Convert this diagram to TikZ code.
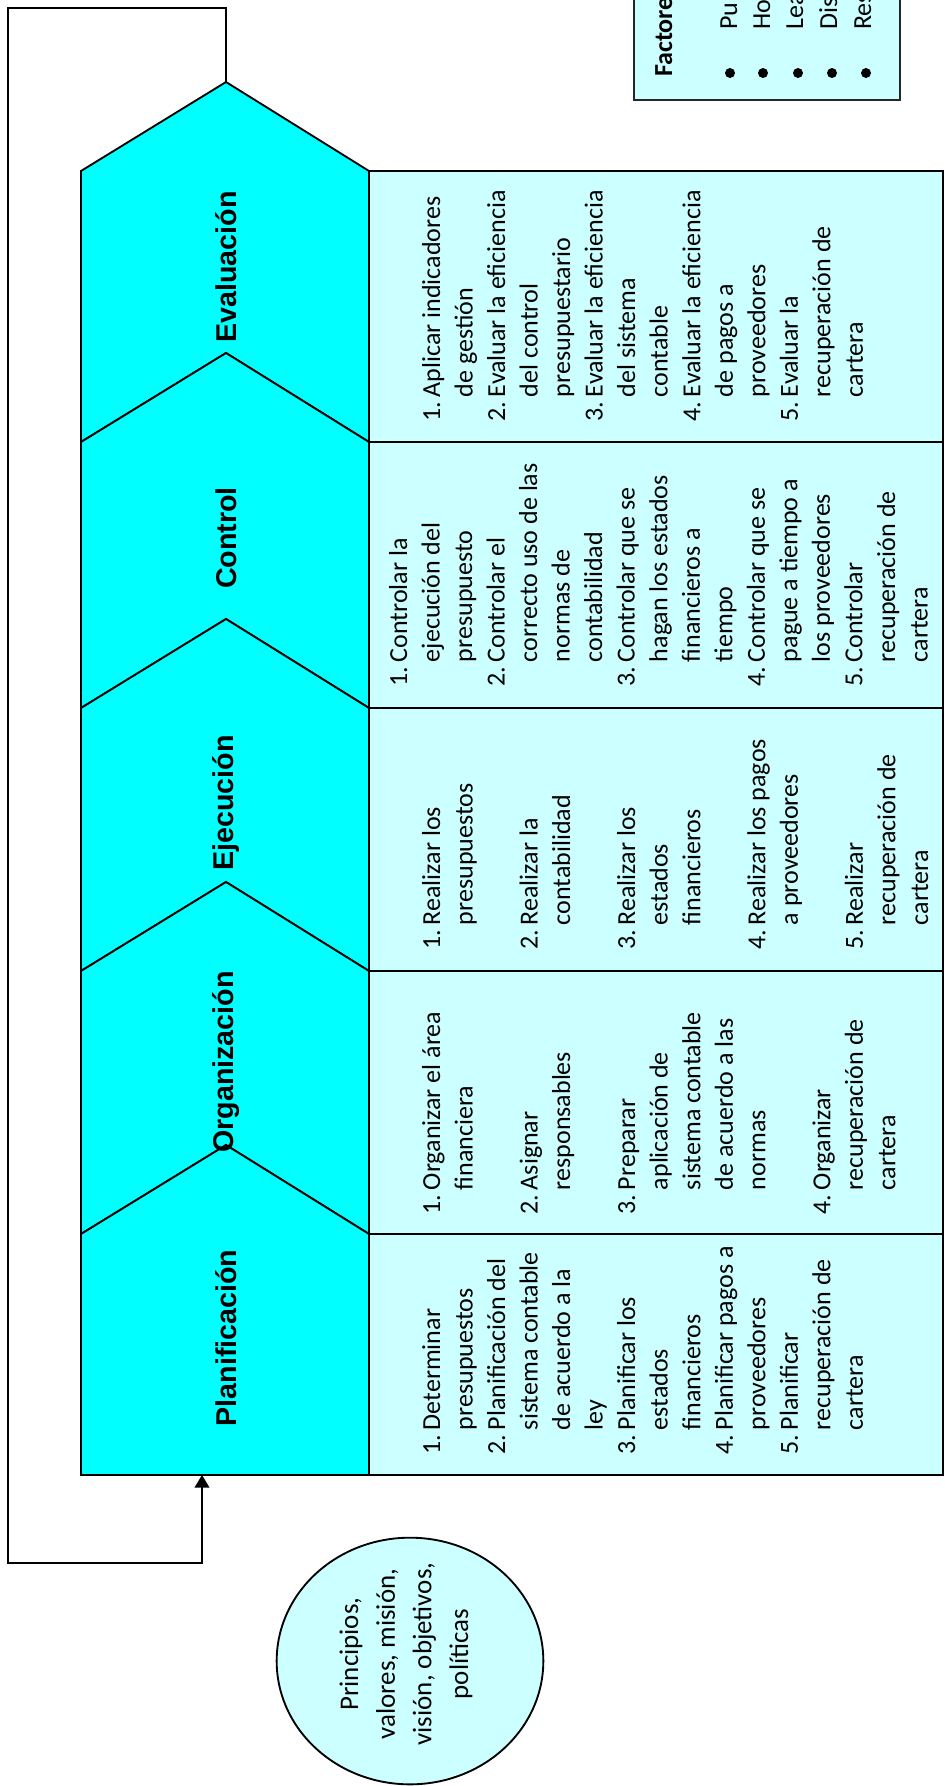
\documentclass[tikz,border=0pt]{standalone}
\usepackage{fontspec}
\setmainfont{Carlito}
\newfontfamily\headfont{Liberation Sans}
\usetikzlibrary{arrows.meta,shapes.geometric}
\definecolor{chevcyan}{HTML}{00FFFF}
\definecolor{paleblue}{HTML}{CCFFFF}
% hanging indent for numbered task lines
\newlength{\numw}\setlength{\numw}{18.5pt}
\newcommand{\itm}[2]{\makebox[\numw][l]{#1}#2}
\newcommand{\cnt}[1]{\hspace*{\numw}#1}

\begin{document}
\begin{tikzpicture}[x=0.75pt,y=-0.75pt,
  outline/.style={draw=black,line width=1.4pt,line join=miter},
  phase/.style={outline,fill=chevcyan},
  cell/.style={outline,fill=paleblue},
  phasename/.style={rotate=90,inner sep=0pt,
    font=\headfont\bfseries\fontsize{21.5pt}{26pt}\selectfont},
  tasks/.style={rotate=90,anchor=base west,inner sep=0pt,
    font=\fontsize{19.5pt}{24.4pt}\selectfont},
  factor/.style={rotate=90,anchor=base west,inner sep=0pt,
    font=\fontsize{19.5pt}{24.4pt}\selectfont},
  flow/.style={draw=black,line width=1.4pt}]

\useasboundingbox (0,0) rectangle (945,1786);
\clip (0,0) rectangle (945,1786);

% ---- factors box (runs off the top edge)
\draw[outline,draw=black!85,fill=paleblue] (634,-20) rectangle (900,100);
\node[factor,font=\bfseries\fontsize{19.5pt}{24.4pt}\selectfont] (factTitle) at (672,77) {Factore};
\foreach \bx/\tx/\w [count=\i] in {730/737/Pu,763/770/Ho,798/803/Lea,832/837/Dis,866/871/Res}{
  \fill (\bx,73) circle[radius=3.75pt];
  \node[factor] (fact\i) at (\tx,30) {\w};
}

% ---- phase chevrons
\path[phase] (81,442) -- (81,171) -- (226,82) -- (369,171) -- (369,442) -- (226,353) -- cycle;
\path[phase] (81,708) -- (81,442) -- (226,353) -- (369,442) -- (369,708) -- (226,619) -- cycle;
\path[phase] (81,971) -- (81,708) -- (226,619) -- (369,708) -- (369,971) -- (226,882) -- cycle;
\path[phase] (81,1234) -- (81,971) -- (226,882) -- (369,971) -- (369,1234) -- (226,1145) -- cycle;
\path[phase] (81,1475) -- (81,1234) -- (226,1145) -- (369,1234) -- (369,1475) -- cycle;

\node[phasename] (evaluacion) at (226,267) {Evaluación};
\node[phasename] (control) at (226,538) {Control};
\node[phasename] (ejecucion) at (226,803) {Ejecución};
\node[phasename] (organizacion) at (226,1062) {Organización};
\node[phasename] (planificacion) at (226,1338) {Planificación};

% ---- task table
\path[cell] (369,171) rectangle (943,442);
\path[cell] (369,442) rectangle (943,708);
\path[cell] (369,708) rectangle (943,971);
\path[cell] (369,971) rectangle (943,1234);
\path[cell] (369,1234) rectangle (943,1475);

\node[tasks] (evalTasks) at (440,422) {\begin{tabular}[t]{@{}l@{}}
\itm{1.}{Aplicar indicadores}\\
\cnt{de gestión}\\
\itm{2.}{Evaluar la eficiencia}\\
\cnt{del control}\\
\cnt{presupuestario}\\
\itm{3.}{Evaluar la eficiencia}\\
\cnt{del sistema}\\
\cnt{contable}\\
\itm{4.}{Evaluar la eficiencia}\\
\cnt{de pagos a}\\
\cnt{proveedores}\\
\itm{5.}{Evaluar la}\\
\cnt{recuperación de}\\
\cnt{cartera}
\end{tabular}};

\node[tasks] (controlTasks) at (407,687) {\begin{tabular}[t]{@{}l@{}}
\itm{1.}{Controlar la}\\
\cnt{ejecución del}\\
\cnt{presupuesto}\\
\itm{2.}{Controlar el}\\
\cnt{correcto uso de las}\\
\cnt{normas de}\\
\cnt{contabilidad}\\
\itm{3.}{Controlar que se}\\
\cnt{hagan los estados}\\
\cnt{financieros a}\\
\cnt{tiempo}\\
\itm{4.}{Controlar que se}\\
\cnt{pague a tiempo a}\\
\cnt{los proveedores}\\
\itm{5.}{Controlar}\\
\cnt{recuperación de}\\
\cnt{cartera}
\end{tabular}};

\node[tasks] (ejecTasks) at (440,950) {\begin{tabular}[t]{@{}l@{}}
\itm{1.}{Realizar los}\\
\cnt{presupuestos}\\
{}\\
\itm{2.}{Realizar la}\\
\cnt{contabilidad}\\
{}\\
\itm{3.}{Realizar los}\\
\cnt{estados}\\
\cnt{financieros}\\
{}\\
\itm{4.}{Realizar los pagos}\\
\cnt{a proveedores}\\
{}\\
\itm{5.}{Realizar}\\
\cnt{recuperación de}\\
\cnt{cartera}
\end{tabular}};

\node[tasks] (orgTasks) at (440,1215) {\begin{tabular}[t]{@{}l@{}}
\itm{1.}{Organizar el área}\\
\cnt{financiera}\\
{}\\
\itm{2.}{Asignar}\\
\cnt{responsables}\\
{}\\
\itm{3.}{Preparar}\\
\cnt{aplicación de}\\
\cnt{sistema contable}\\
\cnt{de acuerdo a las}\\
\cnt{normas}\\
{}\\
\itm{4.}{Organizar}\\
\cnt{recuperación de}\\
\cnt{cartera}
\end{tabular}};

\node[tasks] (planTasks) at (440,1455) {\begin{tabular}[t]{@{}l@{}}
\itm{1.}{Determinar}\\
\cnt{presupuestos}\\
\itm{2.}{Planificación del}\\
\cnt{sistema contable}\\
\cnt{de acuerdo a la}\\
\cnt{ley}\\
\itm{3.}{Planificar los}\\
\cnt{estados}\\
\cnt{financieros}\\
\itm{4.}{Planificar pagos a}\\
\cnt{proveedores}\\
\itm{5.}{Planificar}\\
\cnt{recuperación de}\\
\cnt{cartera}
\end{tabular}};

% ---- feedback loop from evaluation back to planning
\coordinate (evalApex) at (226,82);
\coordinate (planBase) at (202,1475);
\coordinate (loopTR) at (226,8);
\coordinate (loopTL) at (8,8);
\coordinate (loopBL) at (8,1563);
\coordinate (loopBR) at (202,1563);
\draw[flow,-{Triangle[length=9.5pt,width=11pt]}]
  (evalApex) -- (loopTR) -- (loopTL) -- (loopBL) -- (loopBR) -- (planBase);

% ---- guiding principles
\node[cell,ellipse,inner sep=0pt,minimum width=200pt,minimum height=185pt] (ideario) at (410,1661) {};
\node[rotate=90,align=center,inner sep=0pt,
      font=\fontsize{20.2pt}{27.5pt}\selectfont] (idearioText) at (406,1654)
  {Principios,\\valores, misión,\\visión, objetivos,\\políticas};

\end{tikzpicture}
\end{document}
